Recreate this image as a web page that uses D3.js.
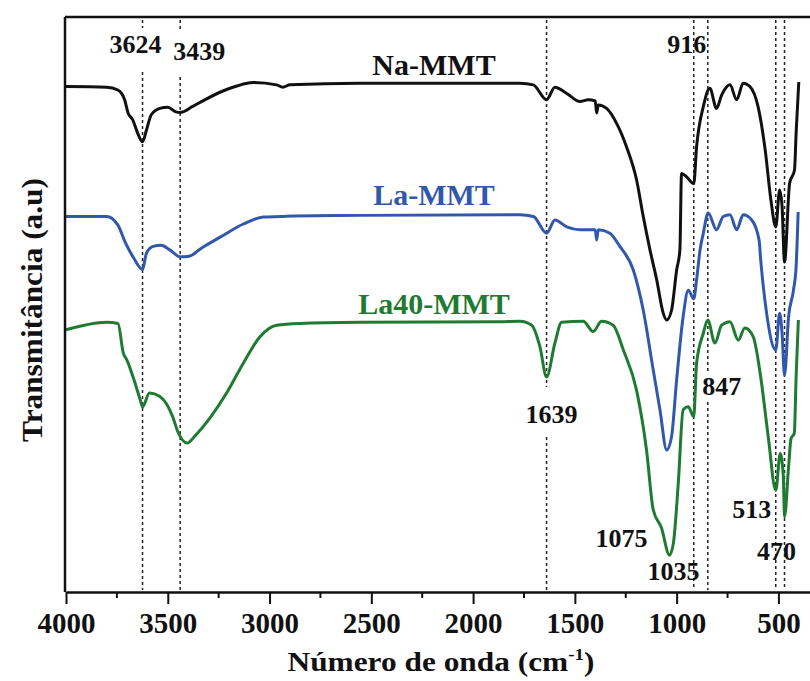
<!DOCTYPE html>
<html>
<head>
<meta charset="utf-8">
<script src="https://cdn.jsdelivr.net/npm/d3@7/dist/d3.min.js"></script>
<style>
  html, body { margin: 0; padding: 0; background: #fff; }
  svg text { font-family: "Liberation Serif", "Times New Roman", serif; font-weight: bold; }
</style>
</head>
<body>
<div id="chart"></div>
<script>
// FTIR spectra (transmittance, arbitrary units, offset per sample)
const naWave = [4000, 3800, 3745, 3712, 3695, 3672, 3648, 3624, 3605, 3581, 3539, 3500, 3460, 3439, 3380, 3318, 3238, 3161, 3081, 2965, 2935, 2900, 2556, 1770, 1704, 1639, 1598, 1540, 1475, 1434, 1400, 1393, 1385, 1344, 1295, 1246, 1197, 1164, 1131, 1098, 1066, 1049, 1025, 1000, 984, 976, 951, 916, 902, 869, 837, 804, 779, 738, 705, 673, 640, 600, 565, 537, 513, 494, 482, 470, 445, 421, 413, 400];
const naT = [87.9, 87.8, 87.3, 85.6, 83.3, 82.1, 79.8, 78.3, 80.3, 83.0, 84.1, 84.3, 83.5, 83.4, 84.4, 85.6, 87.0, 88.0, 88.6, 88.2, 87.8, 88.2, 88.5, 88.5, 88.2, 85.6, 87.8, 86.7, 85.3, 85.6, 85.4, 83.3, 84.7, 84.1, 81.5, 77.4, 71.7, 65.3, 59.5, 54.3, 48.5, 47.3, 49.0, 56.0, 59.5, 72.8, 72.2, 71.0, 77.4, 84.4, 87.6, 84.1, 86.4, 88.2, 85.6, 88.5, 87.9, 84.4, 76.9, 68.2, 63.5, 69.9, 67.0, 57.4, 71.1, 73.4, 79.8, 88.7];

const laWave = [4000, 3800, 3745, 3710, 3666, 3624, 3605, 3572, 3532, 3490, 3439, 3395, 3335, 3238, 3129, 3031, 2940, 2883, 2556, 1770, 1704, 1639, 1598, 1540, 1475, 1400, 1393, 1385, 1328, 1279, 1213, 1164, 1115, 1082, 1049, 1025, 1000, 968, 943, 916, 902, 885, 869, 845, 804, 771, 738, 705, 673, 631, 595, 587, 560, 513, 494, 482, 470, 450, 426, 413, 403];
const laT = [65.3, 65.3, 63.8, 60.9, 58.0, 56.1, 58.9, 60.1, 60.3, 59.5, 58.3, 58.4, 59.8, 61.8, 64.0, 65.2, 65.3, 65.4, 65.5, 65.6, 65.3, 62.4, 64.7, 63.5, 63.0, 63.0, 61.2, 63.0, 62.4, 60.1, 56.0, 49.0, 38.6, 31.7, 24.7, 27.0, 36.9, 47.9, 52.5, 51.0, 54.3, 59.5, 62.4, 65.9, 63.0, 65.3, 65.6, 63.0, 65.6, 64.7, 61.2, 57.7, 49.0, 42.1, 48.5, 45.0, 37.7, 47.9, 52.5, 56.6, 66.1];

const la40Wave = [4000, 3800, 3745, 3718, 3700, 3666, 3635, 3624, 3590, 3539, 3476, 3452, 3405, 3365, 3288, 3211, 3129, 3047, 2965, 2851, 2556, 1868, 1770, 1712, 1672, 1639, 1598, 1565, 1459, 1410, 1369, 1312, 1262, 1197, 1148, 1115, 1075, 1035, 1016, 992, 968, 943, 916, 902, 869, 847, 812, 779, 738, 697, 665, 624, 587, 550, 513, 491, 476, 470, 450, 438, 422, 413, 402];
const la40T = [45.6, 46.9, 46.7, 41.5, 40.3, 36.9, 33.4, 32.2, 34.6, 34.0, 30.5, 28.0, 25.9, 27.2, 30.5, 34.6, 39.8, 44.4, 46.4, 46.7, 46.9, 47.0, 47.1, 46.4, 42.7, 37.4, 43.3, 46.9, 47.1, 45.3, 47.1, 46.4, 42.1, 35.1, 24.7, 14.3, 11.2, 6.4, 8.5, 18.9, 31.7, 32.2, 30.5, 39.8, 45.0, 47.3, 43.3, 46.4, 47.0, 43.8, 45.9, 44.4, 37.4, 27.0, 17.7, 24.1, 20.1, 13.1, 21.8, 26.7, 27.6, 37.4, 47.3];

const seriesNames = ["Na-MMT", "La-MMT", "La40-MMT"];
const seriesColors = ["#111111", "#3158ab", "#1f7a32"];

// band positions marked with dotted guides, and every annotated band
const guideBands = [3624, 3439, 1639, 916, 847, 513, 470];
const bandLabels = [3624, 3439, 916, 1639, 847, 1075, 1035, 513, 470];

const xTicks = [4000, 3500, 3000, 2500, 2000, 1500, 1000, 500];
const xMinorTicks = [3750, 3250, 2750, 2250, 1750, 1250, 750];

const W = 810, H = 681;
const plot = {left: 65, top: 17, bottom: 592};

const svg = d3.select("#chart").append("svg")
    .attr("width", W)
    .attr("height", H);

const x = d3.scaleLinear().domain([4000, 335]).range([66, 812]);
const y = d3.scaleLinear().domain([0, 100]).range([plot.bottom, plot.top]);

// label placement: offset from the band position and baseline
const bandLabelPos = {
    3624: {dx: -7, y: 53}, 3439: {dx: 19, y: 60}, 916: {dx: -7, y: 53},
    1639: {dx: 5, y: 423}, 847: {dx: 14, y: 395}, 1075: {dx: -40, y: 547},
    1035: {dx: 4, y: 580}, 513: {dx: -24, y: 518}, 470: {dx: -8, y: 560}
};
// breaks in the dotted guides where text sits on them
const guideGaps = {3624: [[28, 72]], 3439: [[30, 77]], 1639: [[387, 437]], 847: [[372, 402]]};

// dotted guides
guideBands.forEach(wn => {
    const gx = x(wn);
    let segs = [[plot.top + 3, plot.bottom - 2]];
    (guideGaps[wn] || []).forEach(g => {
        segs = segs.flatMap(s => (g[0] > s[0] && g[1] < s[1]) ? [[s[0], g[0]], [g[1], s[1]]] : [s]);
    });
    segs.forEach(s => {
        svg.append("line")
            .attr("x1", gx).attr("x2", gx)
            .attr("y1", s[0]).attr("y2", s[1])
            .attr("stroke", "#222")
            .attr("stroke-width", 1.5)
            .attr("stroke-dasharray", "3,3");
    });
});

// spectra
const spectra = [
    {wave: naWave, t: naT},
    {wave: laWave, t: laT},
    {wave: la40Wave, t: la40T}
];
const line = d3.line()
    .x(d => x(d[0]))
    .y(d => y(d[1]))
    .curve(d3.curveMonotoneX);

spectra.forEach((s, i) => {
    const pts = s.wave.map((w, j) => [w, s.t[j]]);
    svg.append("path")
        .datum(pts)
        .attr("d", line)
        .attr("fill", "none")
        .attr("stroke", seriesColors[i])
        .attr("stroke-width", 3)
        .attr("stroke-linejoin", "round");
});

// frame: top and left edges
svg.append("line")
    .attr("x1", plot.left).attr("x2", W)
    .attr("y1", plot.top).attr("y2", plot.top)
    .attr("stroke", "#111").attr("stroke-width", 2.5);
svg.append("line")
    .attr("x1", plot.left).attr("x2", plot.left)
    .attr("y1", plot.top).attr("y2", plot.bottom)
    .attr("stroke", "#111").attr("stroke-width", 2.5);

// x axis with minor ticks
const gx = svg.append("g")
    .attr("transform", `translate(0,${plot.bottom})`)
    .call(d3.axisBottom(x).tickValues(xTicks).tickFormat(d3.format("d"))
        .tickSize(12).tickSizeOuter(0).tickPadding(8));
gx.select(".domain").attr("stroke", "#111").attr("stroke-width", 2.5);
gx.selectAll(".tick line").attr("stroke", "#111").attr("stroke-width", 2);
gx.selectAll(".tick text")
    .attr("fill", "#111")
    .style("font-size", "29px")
    .style("font-family", "'Liberation Serif', serif")
    .style("font-weight", "bold");

svg.append("g")
    .attr("transform", `translate(0,${plot.bottom})`)
    .selectAll("line")
    .data(xMinorTicks)
    .join("line")
    .attr("x1", d => x(d)).attr("x2", d => x(d))
    .attr("y1", 0).attr("y2", 6)
    .attr("stroke", "#111").attr("stroke-width", 2);

// axis titles (set slightly wide)
const xt = svg.append("text")
    .attr("transform", "translate(441,671) scale(1.12,1)")
    .attr("text-anchor", "middle")
    .style("font-size", "28px")
    .attr("fill", "#111");
xt.append("tspan").text("Número de onda (cm");
xt.append("tspan").attr("dy", -11).style("font-size", "17px").text("-1");
xt.append("tspan").attr("dy", 11).text(")");

svg.append("text")
    .attr("transform", "translate(42,310) rotate(-90) scale(1.08,1)")
    .attr("text-anchor", "middle")
    .style("font-size", "29px")
    .attr("fill", "#111")
    .text("Transmitância (a.u)");

// series names
const nameY = [75, 205, 314];
seriesNames.forEach((n, i) => {
    svg.append("text")
        .attr("x", 434).attr("y", nameY[i])
        .attr("text-anchor", "middle")
        .style("font-size", "30px")
        .attr("fill", seriesColors[i])
        .text(n);
});

// band annotations
bandLabels.forEach(wn => {
    const p = bandLabelPos[wn];
    svg.append("text")
        .attr("x", x(wn) + p.dx).attr("y", p.y)
        .attr("text-anchor", "middle")
        .style("font-size", "26px")
        .attr("fill", "#111")
        .text(wn);
});
</script>
</body>
</html>
